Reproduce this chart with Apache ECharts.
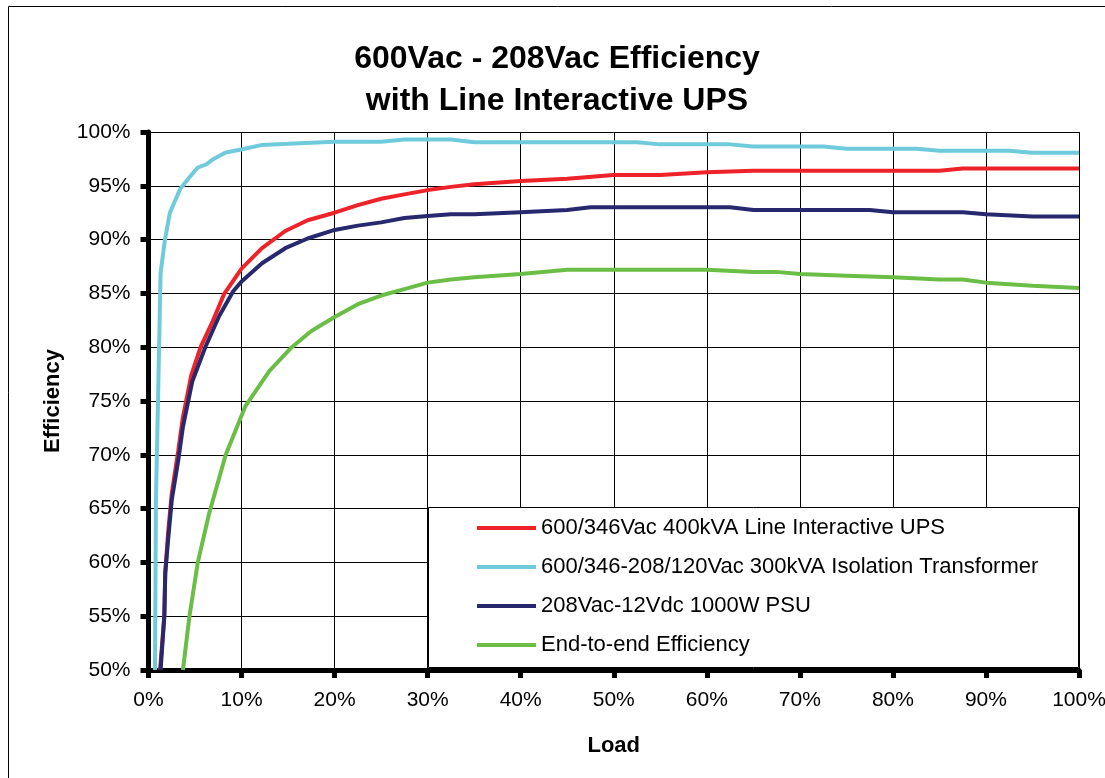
<!DOCTYPE html>
<html>
<head>
<meta charset="utf-8">
<script src="https://cdn.jsdelivr.net/npm/echarts@6/dist/echarts.min.js"></script>
<style>
html,body{margin:0;padding:0;background:#fff;}
#chart{width:1105px;height:778px;}
</style>
</head>
<body>
<div id="chart"></div>
<script>
// ---- data (load %, efficiency %) ----
var seriesNames = [
  '600/346Vac 400kVA Line Interactive UPS',
  '600/346-208/120Vac 300kVA Isolation Transformer',
  '208Vac-12Vdc 1000W PSU',
  'End-to-end Efficiency'
];
var upsLoad = [1.24,1.7,1.8,2.1,2.5,3.2,3.7,4.6,5.6,6.9,8.1,10,12.2,14.7,17.1,20,22.5,25,27.5,30,32.5,35,40,45,50,55,60,65,70,75,80,85,87.5,90,95,100];
var upsEff  = [50,55,59,62.7,66.4,70.4,73.5,77.4,80,82.4,84.9,87.3,89.2,90.8,91.8,92.5,93.2,93.8,94.2,94.6,94.9,95.15,95.45,95.65,96,96,96.25,96.4,96.4,96.4,96.4,96.4,96.6,96.6,96.6,96.6];
var xfmrLoad = [0.7,0.8,1.06,1.24,1.3,1.77,2.3,3.4,4.4,5.3,6.2,7,8.3,10.1,12.2,15,20,25,27.5,32.5,35,52.5,55,62.5,65,72.5,75,82.5,85,92.5,95,100];
var xfmrEff  = [50,65.8,76.6,84.4,86.9,90,92.5,94.7,95.8,96.7,97,97.5,98.1,98.4,98.8,98.9,99.1,99.1,99.3,99.3,99.05,99.05,98.85,98.85,98.65,98.65,98.45,98.45,98.25,98.25,98.07,98.07];
var psuLoad = [1.3,1.7,1.8,2.1,2.5,3.2,3.7,4.7,6.1,7.6,9.1,10,12.2,14.7,17.1,20,22.5,25,27.5,30,32.5,35,40,45,47.5,50,55,60,62.5,65,70,75,77.5,80,85,87.5,90,95,100];
var psuEff  = [50,55,59,62,65.8,69.5,72.6,76.8,80,82.9,85.2,86.1,87.8,89.2,90.1,90.9,91.3,91.6,92,92.2,92.35,92.35,92.55,92.75,93,93,93,93,93,92.75,92.75,92.75,92.75,92.55,92.55,92.55,92.35,92.15,92.15];
var e2eLoad = [3.7,4.4,5.3,6.5,8.3,10.4,13,15.4,17.5,20,22.5,25,27.5,30,32.5,35,40,45,50,55,60,65,67.5,70,75,80,85,87.5,90,95,100];
var e2eEff  = [50,55,60,64.5,70,74.5,77.8,80,81.5,82.8,84,84.8,85.4,86,86.3,86.5,86.8,87.2,87.2,87.2,87.2,87,87,86.8,86.65,86.5,86.3,86.3,86,85.7,85.5];
var seriesColors = ['#EE2229', '#6FCBDC', '#27296F', '#6BBE45'];

function zip(xs, ys){ return xs.map(function(x,i){ return [x, ys[i]]; }); }
var allData = [zip(upsLoad, upsEff), zip(xfmrLoad, xfmrEff), zip(psuLoad, psuEff), zip(e2eLoad, e2eEff)];

var FONT = 'Liberation Sans, Arial, sans-serif';
var chart = echarts.init(document.getElementById('chart'), null, {renderer:'canvas'});
chart.setOption({
  backgroundColor: '#fff',
  animation: false,
  textStyle: { fontFamily: FONT },
  grid: { left: 148.5, top: 132, right: 26, bottom: 108, containLabel: false, outerBoundsMode: 'none' },
  graphic: [
    { type: 'rect', z: 1, silent: true,
      shape: { x: 8.5, y: 6.5, width: 1200, height: 900 },
      style: { fill: null, stroke: '#000', lineWidth: 1 } },
    { type: 'text', z: 5, silent: true, x: 557, y: 80,
      style: { text: '600Vac - 208Vac Efficiency\nwith Line Interactive UPS',
               font: 'bold 32px ' + FONT, fill: '#000', align: 'center',
               verticalAlign: 'middle', lineHeight: 42 } },
    { type: 'rect', z: 3, silent: true,
      shape: { x: 428.5, y: 507.5, width: 650, height: 160 },
      style: { fill: '#fff', stroke: '#000', lineWidth: 1 } }
  ],
  legend: {
    z: 6,
    orient: 'vertical',
    left: 477, top: 517,
    padding: 0,
    itemWidth: 59, itemHeight: 4, itemGap: 17,
    icon: 'rect',
    selectedMode: false,
    textStyle: { fontSize: 22, color: '#000', fontFamily: FONT, lineHeight: 22 },
    data: seriesNames
  },
  xAxis: {
    type: 'value', min: 0, max: 100, interval: 10,
    name: 'Load', nameLocation: 'middle', nameGap: 65,
    nameTextStyle: { fontSize: 22, fontWeight: 'bold', color: '#000', fontFamily: FONT },
    axisLine: { lineStyle: { color: '#000', width: 5 } },
    axisTick: { show: true, inside: false, length: 8, lineStyle: { color: '#000', width: 5 } },
    axisLabel: { fontSize: 21, color: '#000', margin: 20, formatter: '{value}%' },
    splitLine: { show: true, lineStyle: { color: '#000', width: 1 } }
  },
  yAxis: {
    type: 'value', min: 50, max: 100, interval: 5,
    name: 'Efficiency', nameLocation: 'middle', nameGap: 85,
    nameTextStyle: { fontSize: 22, fontWeight: 'bold', color: '#000', fontFamily: FONT },
    axisLine: { show: true, lineStyle: { color: '#000', width: 5 } },
    axisTick: { show: true, inside: false, length: 8, lineStyle: { color: '#000', width: 5 } },
    axisLabel: { fontSize: 21, color: '#000', margin: 18, formatter: '{value}%' },
    splitLine: { show: true, lineStyle: { color: '#000', width: 1 } }
  },
  series: seriesNames.map(function(n, i){
    return {
      name: n, type: 'line', data: allData[i],
      showSymbol: false, symbol: 'none', smooth: false,
      color: seriesColors[i],
      lineStyle: { width: 4, color: seriesColors[i] },
      z: 2
    };
  })
});
</script>
</body>
</html>
